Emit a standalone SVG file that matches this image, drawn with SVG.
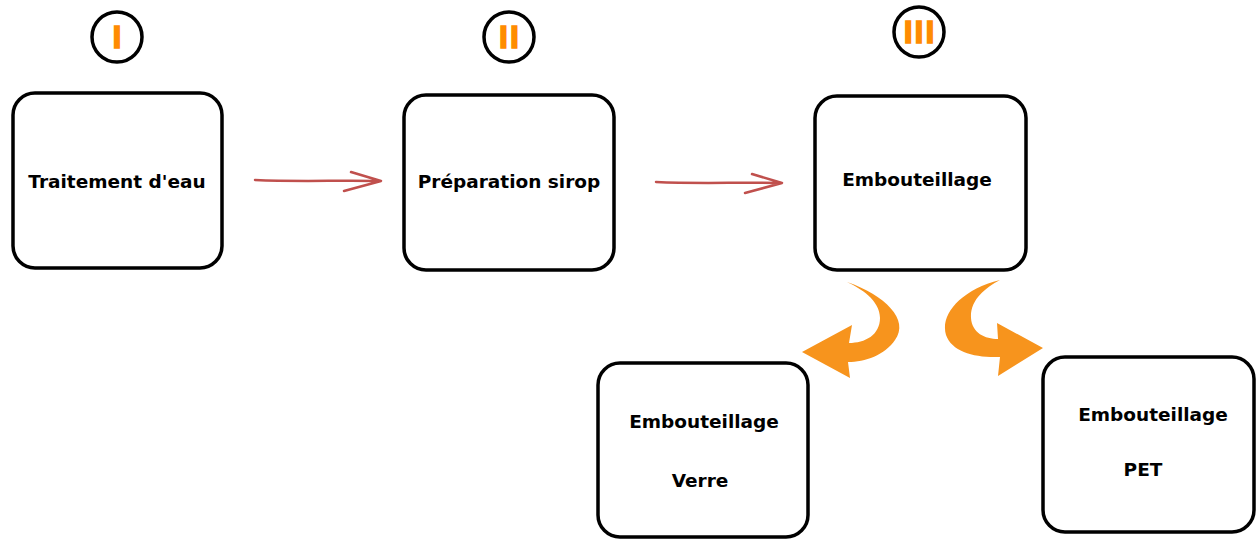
<svg xmlns="http://www.w3.org/2000/svg" width="1257" height="539" viewBox="0 0 1257 539">
<style>
.box{fill:#fff;stroke:#000;stroke-width:3.5}
.lbl{font-family:"DejaVu Sans",Verdana,sans-serif;font-weight:bold;font-size:18.5px;fill:#000;text-anchor:middle}
.num{fill:#fff;stroke:#000;stroke-width:3.5}
.rn{font-family:"Liberation Sans",Arial,sans-serif;font-weight:bold;font-size:32px;fill:#FF8C00;stroke:#FF8C00;stroke-width:1.5;text-anchor:middle;letter-spacing:2px}
.red{fill:none;stroke:#C0504D;stroke-width:2.5;stroke-linecap:round;stroke-linejoin:round}
.orange{fill:#F7941D}
</style>
<rect width="1257" height="539" fill="#fff"/>
<g id="num1"><circle class="num" cx="117" cy="37" r="25"/><text class="rn" x="118" y="48">I</text></g>
<g id="num2"><circle class="num" cx="509" cy="37" r="25"/><text class="rn" x="510" y="48">II</text></g>
<g id="num3"><circle class="num" cx="919" cy="32" r="25"/><text class="rn" x="920" y="43">III</text></g>
<g id="n1"><rect class="box" x="13" y="93" width="209" height="175" rx="22"/><text class="lbl" x="117" y="188">Traitement d'eau</text></g>
<g id="n2"><rect class="box" x="404" y="95" width="210" height="175" rx="22"/><text class="lbl" x="509" y="188">Préparation sirop</text></g>
<g id="n3"><rect class="box" x="815" y="96" width="211" height="174" rx="22"/><text class="lbl" x="917" y="186">Embouteillage</text></g>
<g id="n4"><rect class="box" x="598" y="363" width="210" height="174" rx="22"/><text class="lbl" x="704" y="428">Embouteillage</text><text class="lbl" x="700" y="487">Verre</text></g>
<g id="n5"><rect class="box" x="1043" y="357" width="211" height="175" rx="22"/><text class="lbl" x="1153" y="421">Embouteillage</text><text class="lbl" x="1143" y="476">PET</text></g>
<g id="connectors">
<path class="red" d="M255,180 C300,182 340,180 380,181 M351,172 L381,181 L344,191"/>
<path class="red" d="M656,182 C700,184 740,182 781,183 M752,174 L782,183 L745,193"/>
<path class="orange" d="M847,282 C885,295 910,320 895,340 C885,355 865,362 848,362 L850,378 L802,352 L852,325 L849,343 C865,343 880,335 880,318 C880,300 860,288 847,282 Z"/>
<path class="orange" d="M1000,280 C960,290 940,315 946,335 C952,352 975,358 1000,357 L998,376 L1043,348 L997,323 L998,339 C985,339 972,333 971,318 C970,300 985,288 1000,280 Z"/>
</g>
</svg>
